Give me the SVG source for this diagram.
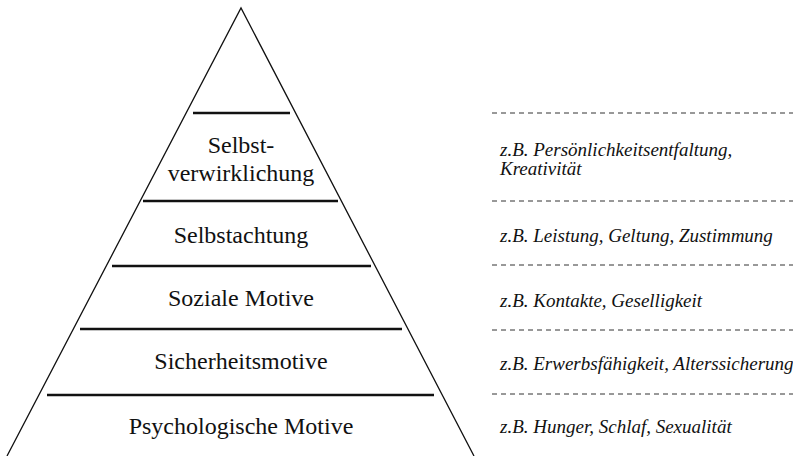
<svg xmlns="http://www.w3.org/2000/svg" width="793" height="456" viewBox="0 0 793 456">
  <style>
    .bg { fill: #ffffff; }
    .edge { fill: none; stroke: #111111; stroke-width: 1.3; }
    .bar { stroke: #111111; stroke-width: 2.4; }
    .dash { stroke: #333333; stroke-width: 1; stroke-dasharray: 5 4; }
    .lvl { font-family: "Liberation Serif", "Times New Roman", serif; font-size: 24px; fill: #111111; text-anchor: middle; }
    .ex { font-family: "Liberation Serif", "Times New Roman", serif; font-size: 19px; font-style: italic; fill: #111111; }
  </style>
  <rect class="bg" x="0" y="0" width="793" height="456"/>
  <g id="pyramid">
    <path class="edge" d="M7,456 L241,8 L474,456"/>
  </g>
  <g id="level-selbstverwirklichung">
    <line class="bar" x1="193" y1="113" x2="290" y2="113"/>
    <text class="lvl" x="241" y="153">Selbst-</text>
    <text class="lvl" x="241" y="181">verwirklichung</text>
  </g>
  <g id="level-selbstachtung">
    <line class="bar" x1="143" y1="201" x2="338" y2="201"/>
    <text class="lvl" x="241" y="243">Selbstachtung</text>
  </g>
  <g id="level-soziale">
    <line class="bar" x1="112" y1="266" x2="371" y2="266"/>
    <text class="lvl" x="241" y="306">Soziale Motive</text>
  </g>
  <g id="level-sicherheit">
    <line class="bar" x1="80" y1="329" x2="402" y2="329"/>
    <text class="lvl" x="241" y="369">Sicherheitsmotive</text>
  </g>
  <g id="level-psychologisch">
    <line class="bar" x1="47" y1="395" x2="434" y2="395"/>
    <text class="lvl" x="241" y="434">Psychologische Motive</text>
  </g>
  <g id="connectors">
    <line class="dash" x1="492" y1="113" x2="793" y2="113"/>
    <line class="dash" x1="492" y1="201" x2="793" y2="201"/>
    <line class="dash" x1="492" y1="265" x2="793" y2="265"/>
    <line class="dash" x1="492" y1="330" x2="793" y2="330"/>
    <line class="dash" x1="492" y1="394" x2="793" y2="394"/>
  </g>
  <g id="example-selbstverwirklichung">
    <text class="ex" x="500" y="156">z.B. Persönlichkeitsentfaltung,</text>
    <text class="ex" x="500" y="175">Kreativität</text>
  </g>
  <g id="example-selbstachtung">
    <text class="ex" x="500" y="242">z.B. Leistung, Geltung, Zustimmung</text>
  </g>
  <g id="example-soziale">
    <text class="ex" x="500" y="307">z.B. Kontakte, Geselligkeit</text>
  </g>
  <g id="example-sicherheit">
    <text class="ex" x="500" y="370">z.B. Erwerbsfähigkeit, Alterssicherung</text>
  </g>
  <g id="example-psychologisch">
    <text class="ex" x="500" y="433">z.B. Hunger, Schlaf, Sexualität</text>
  </g>
</svg>
